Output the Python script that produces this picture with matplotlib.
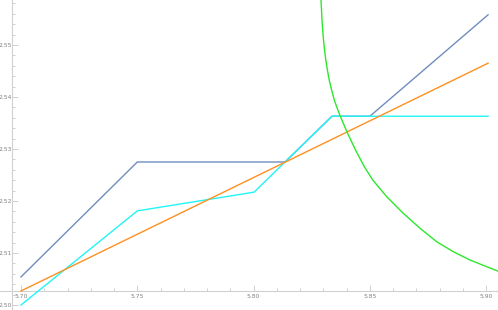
import matplotlib
matplotlib.use('Agg')
import matplotlib.pyplot as plt
from matplotlib.ticker import MultipleLocator, FixedLocator

# values
blue_x = [5.70, 5.75, 5.8135, 5.8337, 5.85, 5.9008]
blue_y = [2.5054, 2.5275, 2.5275, 2.5363, 2.5363, 2.5558]

cyan_x = [5.70, 5.75, 5.8002, 5.8337, 5.9008]
cyan_y = [2.5000, 2.5181, 2.5217, 2.5363, 2.5363]

orange_x = [5.70, 5.9008]
orange_y = [2.5027, 2.5465]

green_x = [5.82898, 5.82919, 5.82941, 5.82971, 5.83005, 5.83052, 5.83104,
           5.83172, 5.83250, 5.83353, 5.83469, 5.83590, 5.83727, 5.84028,
           5.84381, 5.84759, 5.85121, 5.85722, 5.86436, 5.87154, 5.87871,
           5.88585, 5.89303, 5.90021, 5.90494]
green_y = [2.55865, 2.55673, 2.55481, 2.55289, 2.55096, 2.54904, 2.54712,
           2.54519, 2.54327, 2.54135, 2.53942, 2.53788, 2.53629, 2.53314,
           2.52981, 2.52660, 2.52404, 2.52083, 2.51763, 2.51475, 2.51217,
           2.51025, 2.50865, 2.50737, 2.50654]

x_ticks = [5.70, 5.75, 5.80, 5.85, 5.90]
y_ticks = [2.50, 2.51, 2.52, 2.53, 2.54, 2.55]

fig = plt.figure(figsize=(4.98, 3.10), dpi=100)
ax = fig.add_axes([0, 0, 1, 1])

lw = 1.0
ax.plot(blue_x, blue_y, color='#6F8DBE', lw=lw, zorder=3)
ax.plot(cyan_x, cyan_y, color='#22F5F5', lw=lw, zorder=4)
ax.plot(orange_x, orange_y, color='#FF8F1F', lw=lw, zorder=5)
ax.plot(green_x, green_y, color='#2BE82B', lw=lw, zorder=6)

ax.set_xlim(5.69097, 5.90507)
ax.set_ylim(2.49904, 2.55865)

for s in ['top', 'right']:
    ax.spines[s].set_visible(False)
ax.spines['bottom'].set_position(('data', 2.5027))
ax.spines['left'].set_position(('data', 5.6961))
for s in ['bottom', 'left']:
    ax.spines[s].set_color('#d0d0d0')
    ax.spines[s].set_linewidth(0.8)

ax.xaxis.set_major_locator(FixedLocator(x_ticks))
ax.yaxis.set_major_locator(FixedLocator(y_ticks))
ax.xaxis.set_minor_locator(MultipleLocator(0.01))
ax.yaxis.set_minor_locator(MultipleLocator(0.002))
ax.set_xticklabels(['%.2f' % v for v in x_ticks])
ax.set_yticklabels(['%.2f' % v for v in y_ticks])

ax.tick_params(which='both', direction='in', color='#c8c8c8', width=0.6,
               labelsize=4.3, labelcolor='#808080')
ax.tick_params(which='major', length=4)
ax.tick_params(axis='x', which='major', pad=2)
ax.tick_params(axis='y', which='major', pad=0.2)
ax.tick_params(which='minor', length=2)

fig.savefig('out.png', dpi=100)
